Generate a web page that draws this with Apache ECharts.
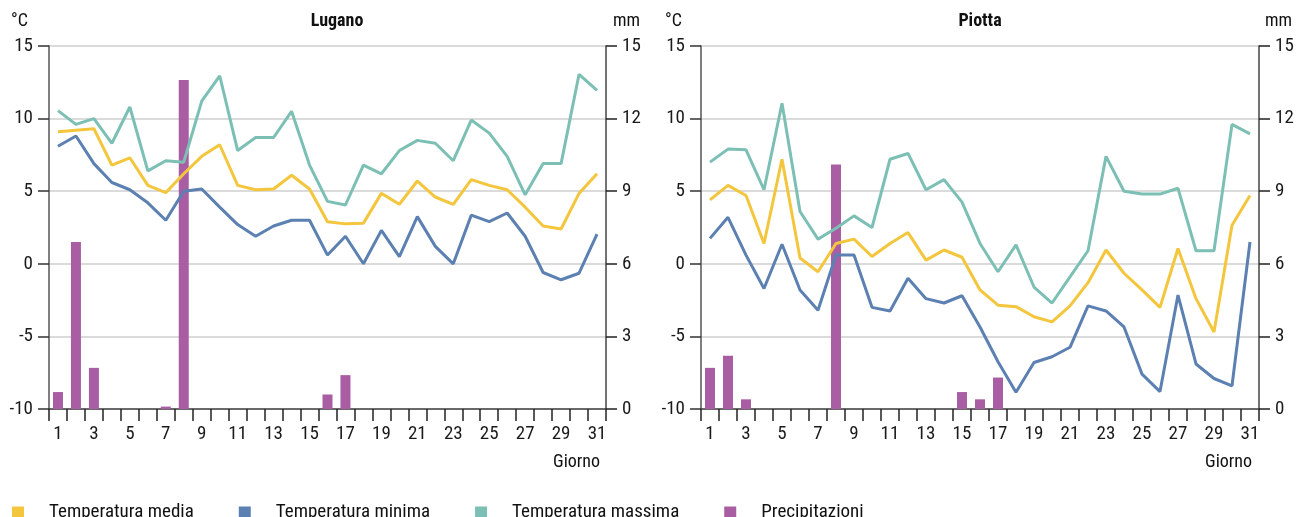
<!DOCTYPE html>
<html>
<head>
<meta charset="utf-8">
<script src="https://cdn.jsdelivr.net/npm/echarts@6/dist/echarts.min.js"></script>
<style>
html,body{margin:0;padding:0;background:#fff;}
#c{width:1306px;height:517px;}
</style>
</head>
<body>
<div id="c"></div>
<script>
const days = Array.from({length:31},(_,i)=>String(i+1));
const tempTicks = [-10,-5,0,5,10,15];
const mmTicks = [0,3,6,9,12,15];

const luganoMedia = [9.1,9.2,9.3,6.8,7.3,5.4,4.9,6.2,7.4,8.2,5.4,5.1,5.15,6.1,5.15,2.9,2.75,2.8,4.85,4.1,5.7,4.6,4.1,5.8,5.4,5.1,3.9,2.6,2.4,4.85,6.2];
const luganoMin = [8.1,8.8,6.9,5.6,5.1,4.2,3.0,5.0,5.15,3.9,2.7,1.9,2.6,3.0,3.0,0.6,1.9,0.0,2.3,0.5,3.25,1.2,0.0,3.35,2.9,3.5,1.9,-0.6,-1.1,-0.65,2.05];
const luganoMax = [10.55,9.6,10.0,8.3,10.8,6.4,7.1,7.0,11.2,12.95,7.8,8.7,8.7,10.5,6.8,4.3,4.05,6.8,6.2,7.8,8.5,8.3,7.1,9.9,9.0,7.4,4.75,6.9,6.9,13.05,11.95];
const luganoPrec = [0.7,6.9,1.7,0,0,0,0.1,13.6,0,0,0,0,0,0,0,0.6,1.4,0,0,0,0,0,0,0,0,0,0,0,0,0,0];

const piottaMedia = [4.4,5.4,4.7,1.4,7.2,0.4,-0.55,1.4,1.7,0.5,1.4,2.15,0.25,0.95,0.45,-1.8,-2.85,-2.95,-3.65,-4.0,-2.9,-1.3,0.95,-0.65,-1.8,-3.0,1.05,-2.4,-4.7,2.65,4.7];
const piottaMin = [1.75,3.2,0.6,-1.7,1.35,-1.8,-3.2,0.6,0.6,-3.0,-3.25,-1.0,-2.4,-2.7,-2.2,-4.35,-6.75,-8.85,-6.8,-6.4,-5.75,-2.9,-3.25,-4.35,-7.6,-8.8,-2.15,-6.9,-7.9,-8.4,1.5];
const piottaMax = [7.0,7.9,7.85,5.1,11.05,3.6,1.7,2.45,3.3,2.5,7.2,7.6,5.1,5.8,4.25,1.4,-0.55,1.3,-1.6,-2.7,-0.9,0.9,7.4,5.0,4.8,4.8,5.2,0.9,0.9,9.6,8.95];
const piottaPrec = [1.7,2.2,0.4,0,0,0,0,10.1,0,0,0,0,0,0,0.7,0.4,1.3,0,0,0,0,0,0,0,0,0,0,0,0,0,0];

const FONT = "'Roboto Condensed','Liberation Sans',sans-serif";
const C_MEDIA = '#f4c63d', C_MIN = '#5b80b1', C_MAX = '#7cbfb4', C_PREC = '#a95ea4';

const chart = echarts.init(document.getElementById('c'), null, {renderer:'canvas'});

function xAx(gi){
  return {
    type:'category', gridIndex:gi, data:days, boundaryGap:true,
    axisLine:{show:true, onZero:false, lineStyle:{color:'#444', width:1.5}},
    axisTick:{show:true, length:12, interval:0, lineStyle:{color:'#222', width:1.5}},
    axisLabel:{interval:1, color:'#1a1a1a', fontSize:19, fontFamily:FONT, margin:16}
  };
}
function yTemp(gi){
  return {
    type:'value', gridIndex:gi, position:'left', min:tempTicks[0], max:tempTicks[tempTicks.length-1], interval:5,
    axisLine:{show:true, lineStyle:{color:'#555', width:1.5}},
    axisTick:{show:true, length:11, lineStyle:{color:'#333', width:1.5}},
    axisLabel:{color:'#1a1a1a', fontSize:19, fontFamily:FONT, margin:16},
    splitLine:{show:true, lineStyle:{color:'#cfcfcf', width:1.5}}
  };
}
function yMm(gi){
  return {
    type:'value', gridIndex:gi, position:'right', min:mmTicks[0], max:mmTicks[mmTicks.length-1], interval:3,
    axisLine:{show:true, lineStyle:{color:'#444', width:1.5}},
    axisTick:{show:true, length:11, lineStyle:{color:'#222', width:1.5}},
    axisLabel:{color:'#1a1a1a', fontSize:19, fontFamily:FONT, margin:16},
    splitLine:{show:false}
  };
}
function lineS(name, data, color, gi){
  return {name, type:'line', xAxisIndex:gi, yAxisIndex:gi*2, data, symbol:'none',
    lineStyle:{color, width:3}, itemStyle:{color}, z:3, animation:false};
}
function barS(data, gi){
  return {name:'Precipitazioni', type:'bar', xAxisIndex:gi, yAxisIndex:gi*2+1, data, barWidth:10,
    itemStyle:{color:C_PREC}, z:2, animation:false};
}
function ttl(text, left, top, bold, align){
  return {text, left, top, textAlign:align||'left', padding:0,
    textStyle:{fontSize:18, fontWeight:bold?'bold':'normal', fontFamily:FONT, color:'#111'}};
}

const option = {
  animation:false,
  backgroundColor:'#fff',
  textStyle:{fontFamily:FONT},
  grid:[
    {left:49, top:46, width:557, height:363},
    {left:701, top:46, width:558, height:363}
  ],
  xAxis:[xAx(0), xAx(1)],
  yAxis:[yTemp(0), yMm(0), yTemp(1), yMm(1)],
  legend:{
    top:503, left:12, padding:0, itemWidth:12, itemHeight:12, itemGap:45, icon:'rect',
    textStyle:{fontSize:19, fontFamily:FONT, color:'#111', padding:[0,0,0,20]},
    data:['Temperatura media','Temperatura minima','Temperatura massima','Precipitazioni']
  },
  title:[
    ttl('Lugano', 337, 12, true, 'center'),
    ttl('Piotta', 980, 12, true, 'center'),
    ttl('°C', 11, 12),
    ttl('mm', 613, 12),
    ttl('°C', 665, 12),
    ttl('mm', 1265, 12),
    ttl('Giorno', 553, 453),
    ttl('Giorno', 1205, 453)
  ],
  series:[
    barS(luganoPrec,0),
    lineS('Temperatura media', luganoMedia, C_MEDIA, 0),
    lineS('Temperatura minima', luganoMin, C_MIN, 0),
    lineS('Temperatura massima', luganoMax, C_MAX, 0),
    barS(piottaPrec,1),
    lineS('Temperatura media', piottaMedia, C_MEDIA, 1),
    lineS('Temperatura minima', piottaMin, C_MIN, 1),
    lineS('Temperatura massima', piottaMax, C_MAX, 1)
  ]
};
chart.setOption(option);
</script>
</body>
</html>
